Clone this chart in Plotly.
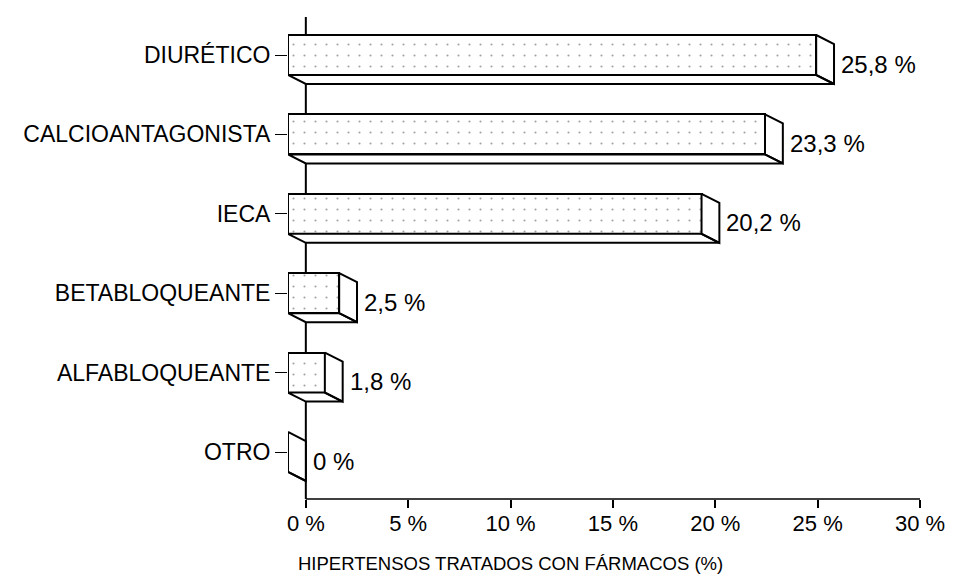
import plotly.graph_objects as go

# ---- data ----
categories = ["OTRO", "ALFABLOQUEANTE", "BETABLOQUEANTE", "IECA", "CALCIOANTAGONISTA", "DIURÉTICO"]
values = [0.0, 1.8, 2.5, 20.2, 23.3, 25.8]
value_labels = ["0 %", "1,8 %", "2,5 %", "20,2 %", "23,3 %", "25,8 %"]
x_tickvals = [0, 5, 10, 15, 20, 25, 30]
x_ticktext = ["0 %", "5 %", "10 %", "15 %", "20 %", "25 %", "30 %"]
x_title = "HIPERTENSOS TRATADOS CON FÁRMACOS (%)"

# ---- geometry / style ----
PAGE_OFF = 8  # default body margin of the html page
W, H = 954 - PAGE_OFF, 579 - PAGE_OFF
ML, MT = 288 - PAGE_OFF, 17 - PAGE_OFF
MR = W - (926 - PAGE_OFF)
MB = H - (499 - PAGE_OFF)
plot_w = W - ML - MR
plot_h = H - MT - MB
DEPTH_X_PX, DEPTH_Y_PX = 18, 9
BAR_PX = 40
CAT_PX = 79.4
FIRST_CAT_PX = 452 - PAGE_OFF  # pixel y of first category (from figure top)
TITLE_PX = 563 - PAGE_OFF

xmax = 30.0
px_per_x = (plot_w - DEPTH_X_PX) / xmax
dx = DEPTH_X_PX / px_per_x
xrange = [-dx, xmax]

y_top = (FIRST_CAT_PX - MT) / CAT_PX
y_bot = (FIRST_CAT_PX - (H - MB)) / CAT_PX
yrange = [y_bot, y_top]
dy = DEPTH_Y_PX / CAT_PX
hh = BAR_PX / 2 / CAT_PX

ypos = list(range(len(categories)))

FONT = "Liberation Sans, Arial, Helvetica, sans-serif"

fig = go.Figure()

# front faces
fig.add_trace(go.Bar(
    orientation="h",
    y=ypos,
    x=values,
    base=[-dx] * len(values),
    width=2 * hh,
    marker=dict(
        color="white",
        line=dict(color="black", width=2),
        pattern=dict(shape=".", size=11, solidity=0.03, fgcolor="#444444", bgcolor="white"),
    ),
    hoverinfo="skip",
    showlegend=False,
))

# side and bottom faces
sx, sy = [], []
for yi, v in zip(ypos, values):
    fx = v - dx
    sx += [fx, v, v, fx, fx, None]
    sy += [yi + hh, yi + hh - dy, yi - hh - dy, yi - hh, yi + hh, None]
    sx += [-dx, fx, v, 0, -dx, None]
    sy += [yi - hh, yi - hh, yi - hh - dy, yi - hh - dy, yi - hh, None]
fig.add_trace(go.Scatter(
    x=sx, y=sy, mode="lines", fill="toself", fillcolor="white",
    line=dict(color="black", width=2), hoverinfo="skip", showlegend=False,
))

# value labels
for yi, v, t in zip(ypos, values, value_labels):
    fig.add_annotation(x=v, y=yi - dy, text=t, showarrow=False, xanchor="left",
                       xshift=5, font=dict(family=FONT, size=24, color="black"))

# axis title
fig.add_annotation(x=10, xref="x", y=(H - MB - TITLE_PX) / plot_h, yref="paper",
                   text=x_title, showarrow=False, xanchor="center", yanchor="middle",
                   font=dict(family=FONT, size=18.5, color="black"))

# axis lines
fig.add_shape(type="line", xref="x", yref="paper", x0=0, x1=0, y0=0, y1=1,
              line=dict(color="black", width=2), layer="below")
fig.add_shape(type="line", xref="x", yref="paper", x0=0, x1=xmax, y0=0, y1=0,
              line=dict(color="black", width=1.5), layer="below")

fig.update_layout(
    width=W, height=H,
    margin=dict(l=ML, r=MR, t=MT, b=MB),
    paper_bgcolor="white", plot_bgcolor="white",
    font=dict(family=FONT, size=22, color="black"),
    bargap=0,
    xaxis=dict(range=xrange, tickvals=x_tickvals, ticktext=x_ticktext,
               ticks="outside", ticklen=8, tickwidth=1.5, tickcolor="black",
               ticklabelstandoff=-3,
               showgrid=False, zeroline=False, showline=False,
               tickfont=dict(family=FONT, size=22)),
    yaxis=dict(range=yrange, tickvals=ypos, ticktext=categories,
               ticks="outside", ticklen=12, tickwidth=1.2, tickcolor="black",
               showgrid=False, zeroline=False, showline=False,
               tickfont=dict(family=FONT, size=23)),
)

fig.write_html("out.html")
